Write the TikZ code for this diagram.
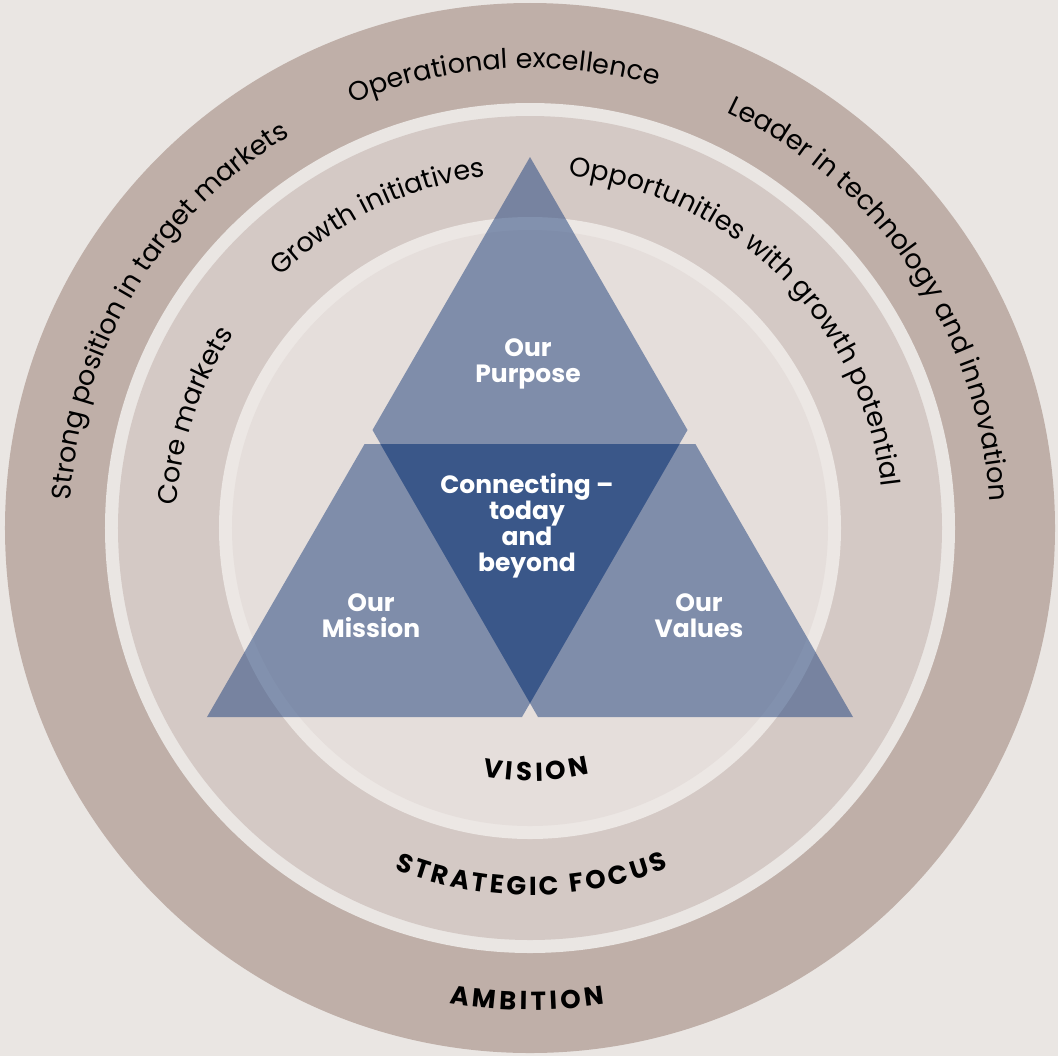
\documentclass[tikz,border=0pt]{standalone}
\usepackage{fontspec}
\setmainfont{Poppins}
\usetikzlibrary{decorations.text}

\definecolor{paper}{HTML}{EAE6E3}
\definecolor{ambition}{HTML}{BFAFA8}
\definecolor{focus}{HTML}{D4C9C5}
\definecolor{band}{HTML}{ECE7E4}
\definecolor{vision}{HTML}{E5DEDB}
\definecolor{navy}{RGB}{41,73,129}

\newcommand{\ringfont}{\fontsize{13.5}{14}\selectfont}
\newcommand{\headfont}{\bfseries\fontsize{13}{14}\selectfont\kern1.8pt}
\newcommand{\focusfont}{\bfseries\fontsize{13}{14}\selectfont\kern1.5pt}

\tikzstyle{rhomb} = [fill=navy, fill opacity=0.54]
\tikzstyle{label} = [text=white, font=\bfseries\fontsize{12.5}{13}\selectfont, align=center]
\tikzset{
  cw/.style={decorate, decoration={text along path, text align=center, text={|\ringfont|#1}}},
  ccw/.style={decorate, decoration={text along path, text align=center, text={|\headfont|#1}}}
}

\begin{document}
\begin{tikzpicture}[x=0.5pt, y=0.5pt]
    \useasboundingbox (-530,-528) rectangle (528,528);
    \fill[paper] (-530,-528) rectangle (528,528);

    % rings
    \fill[ambition] (0,0) circle (525);
    \fill[paper] (0,0) circle (425);
    \fill[focus] (0,0) circle (412);
    \fill[band] (0,0) circle (311);
    \fill[vision] (0,0) circle (298);

    % the three shapes
    \fill[rhomb] (0,-175) -- (157.5,98) -- (0,371) -- (-157.5,98) -- cycle;
    \fill[rhomb] (-323,-189) -- (-8,-189) -- (149.6,84) -- (-165.4,84) -- cycle;
    \fill[rhomb] (8,-189) -- (323,-189) -- (165.4,84) -- (-149.6,84) -- cycle;

    \node (purpose) [label] at (-2,164) {Our\\Purpose};
    \node (centre) [label] at (-3,2) {Connecting --\\today\\and\\beyond};
    \node (mission) [label] at (-159,-88) {Our\\Mission};
    \node (values) [label] at (169,-88) {Our\\Values};

    % outer ring
    \path[cw={Operational excellence}] (173.3:460) arc (173.3:13.3:460);
    \path[cw={Strong position in target markets}] (229:460) arc (229:69:460);
    \path[cw={Leader in technology and innovation}] (114:460) arc (114:-46:460);
    \path[ccw={AMBITION}] (-170.6:482) arc (-170.6:-10.6:482);

    % middle ring
    \path[cw={Growth initiatives}] (196:354) arc (196:36:354);
    \path[cw={Core markets}] (241.5:354) arc (241.5:81.5:354);
    \path[cw={Opportunities with growth potential}] (125.2:354) arc (125.2:-34.8:354);
    \path[decorate, decoration={text along path, text align=center,
      text={|\focusfont|STRATEGIC FOCUS}}] (-170:367) arc (-170:-10:367);

    % inner disc
    \path[ccw={VISION}] (-169:253) arc (-169:-9:253);
\end{tikzpicture}
\end{document}
